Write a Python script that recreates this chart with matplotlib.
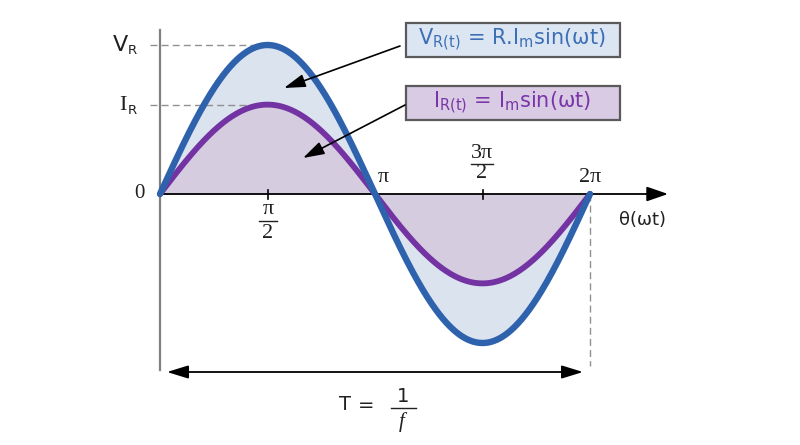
import numpy as np
import matplotlib
matplotlib.use("Agg")
import matplotlib.pyplot as plt
from matplotlib.patches import Rectangle

# ---- data ----
V_peak = 1.0          # relative amplitude of V_R
I_peak = 0.6          # relative amplitude of I_R
cycles = 1.0          # one full period 0 .. 2*pi
tick_values = [np.pi / 2, np.pi, 3 * np.pi / 2, 2 * np.pi]
tick_num = ['π', 'π', '3π', '2π']
tick_den = ['2', None, '2', None]
v_label = 'V'
i_label = 'I'
v_eq = r'V$_{\mathregular{R(t)}}$ = R.I$_{\mathregular{m}}$sin(ωt)'
i_eq = r'I$_{\mathregular{R(t)}}$ = I$_{\mathregular{m}}$sin(ωt)'

theta = np.linspace(0, 2 * np.pi * cycles, 600)
v = V_peak * np.sin(theta)
i = I_peak * np.sin(theta)

# ---- layout (pixel -> data helpers) ----
W, H = 800, 445
X0, Y0 = 160, 194
SX = 430 / (2 * np.pi)
SY = 149 / V_peak

def P(x, y):
    return ((x - X0) / SX, (Y0 - y) / SY)

fig = plt.figure(figsize=(W / 100, H / 100), dpi=100)
ax = fig.add_axes([0, 0, 1, 1])
ax.set_xlim(-X0 / SX, (W - X0) / SX)
ax.set_ylim(-(H - Y0) / SY, Y0 / SY)
ax.axis('off')

blue = '#2e62ad'
purple = '#7433a3'
fill_blue = '#dbe3ef'
fill_purple = '#d5cce0'
txt = '#202020'
serif = 'Liberation Serif'

ax.fill_between(theta, 0, v, color=fill_blue, lw=0, zorder=1)
ax.fill_between(theta, 0, i, color=fill_purple, lw=0, zorder=2)

# axes
ax.plot(*zip(P(160, 30), P(160, 370)), color='#808080', lw=1.6, zorder=3)
ax.annotate('', xy=P(668, 194), xytext=P(160, 194),
            arrowprops=dict(arrowstyle='-|>,head_length=1.3,head_width=0.45',
                            color='black', lw=1.3, shrinkA=0, shrinkB=0), zorder=3)
for tv in (np.pi / 2, 3 * np.pi / 2):
    ax.plot([tv, tv], [P(0, 190)[1], P(0, 199)[1]], color='black', lw=1.2, zorder=3)

# dashed guides
ax.plot([P(150, 0)[0], np.pi / 2], [V_peak, V_peak], color='#909090', lw=1.0,
        dashes=(5, 3), zorder=2.5)
ax.plot([P(150, 0)[0], np.pi / 2], [I_peak, I_peak], color='#909090', lw=1.0,
        dashes=(5, 3), zorder=2.5)
ax.plot([2 * np.pi, 2 * np.pi], [0, P(0, 366)[1]], color='#909090', lw=1.0,
        dashes=(5, 3), zorder=2.5)

# curves
ax.plot(theta, i, color=purple, lw=4.2, solid_capstyle='round', zorder=4)
ax.plot(theta, v, color=blue, lw=4.6, solid_capstyle='round', zorder=5)

# y labels
ax.text(*P(128, 45), v_label, fontsize=16, family='DejaVu Sans', color=txt,
        ha='right', va='center')
ax.text(*P(128, 51), 'R', fontsize=9.5, family='DejaVu Sans', color=txt,
        ha='left', va='center')
ax.text(*P(127, 105), i_label, fontsize=16, family=serif, color=txt,
        ha='right', va='center')
ax.text(*P(128, 110), 'R', fontsize=9.5, family='DejaVu Sans', color=txt,
        ha='left', va='center')
ax.text(*P(139, 193), '0', fontsize=15, family=serif, color=txt,
        ha='center', va='center')

# tick labels (fractions drawn as numerator / bar / denominator)
frac_layout = {0: (268, 209, 221, 233, 9),
               2: (482, 153, 164, 174, 11)}
single_layout = {1: (383, 178), 3: (590, 178)}
for k, (tv, num, den) in enumerate(zip(tick_values, tick_num, tick_den)):
    if den is not None:
        cx, yn, yb, yd, hw = frac_layout[k]
        ax.text(*P(cx, yn), num, fontsize=16, family=serif, color=txt,
                ha='center', va='center')
        ax.plot(*zip(P(cx - hw, yb), P(cx + hw, yb)), color=txt, lw=1.0)
        ax.text(*P(cx, yd), den, fontsize=16, family=serif, color=txt,
                ha='center', va='center')
    else:
        cx, cy = single_layout[k]
        ax.text(*P(cx, cy), num, fontsize=16, family=serif, color=txt,
                ha='center', va='center')
ax.text(*P(642, 220), 'θ(ωt)', fontsize=13, family='DejaVu Sans', color=txt,
        ha='center', va='center')

# equation boxes
for (y_top, fc, tc, eq) in ((23, '#dce6f2', '#3d6fb6', v_eq),
                            (86, '#d9cbe4', '#7a35a8', i_eq)):
    x_l, y_b = P(406, y_top + 34)
    ax.add_patch(Rectangle((x_l, y_b), 214 / SX, 34 / SY, fc=fc, ec='#5a5a5a',
                           lw=1.6, zorder=6))
    ax.text(*P(512, y_top + 17), eq, fontsize=15, family='DejaVu Sans', color=tc,
            ha='center', va='center', zorder=7, math_fontfamily='dejavusans')

# pointer arrows
ax.annotate('', xy=P(284, 88), xytext=P(400, 46),
            arrowprops=dict(arrowstyle='-|>,head_length=1.3,head_width=0.4',
                            color='black', lw=1.2, shrinkA=0, shrinkB=0), zorder=6)
ax.annotate('', xy=P(303, 158), xytext=P(405, 105),
            arrowprops=dict(arrowstyle='-|>,head_length=1.3,head_width=0.4',
                            color='black', lw=1.2, shrinkA=0, shrinkB=0), zorder=6)

# period arrow
ax.annotate('', xy=P(583, 372), xytext=P(167, 372),
            arrowprops=dict(arrowstyle='<|-|>,head_length=1.3,head_width=0.4',
                            color='black', lw=1.3, shrinkA=0, shrinkB=0), zorder=6)
ax.text(*P(345, 405), 'T', fontsize=14, family='DejaVu Sans', color=txt,
        ha='center', va='center')
ax.text(*P(366, 405), '=', fontsize=14, family='DejaVu Sans', color=txt,
        ha='center', va='center')
ax.text(*P(403, 396), '1', fontsize=14, family='DejaVu Sans', color=txt,
        ha='center', va='center')
ax.plot(*zip(P(391, 408), P(416, 408)), color=txt, lw=1.0)
ax.text(*P(402, 422), 'f', fontsize=15, family=serif, style='italic', color=txt,
        ha='center', va='center')

fig.savefig('out.png', dpi=100, facecolor='white')
